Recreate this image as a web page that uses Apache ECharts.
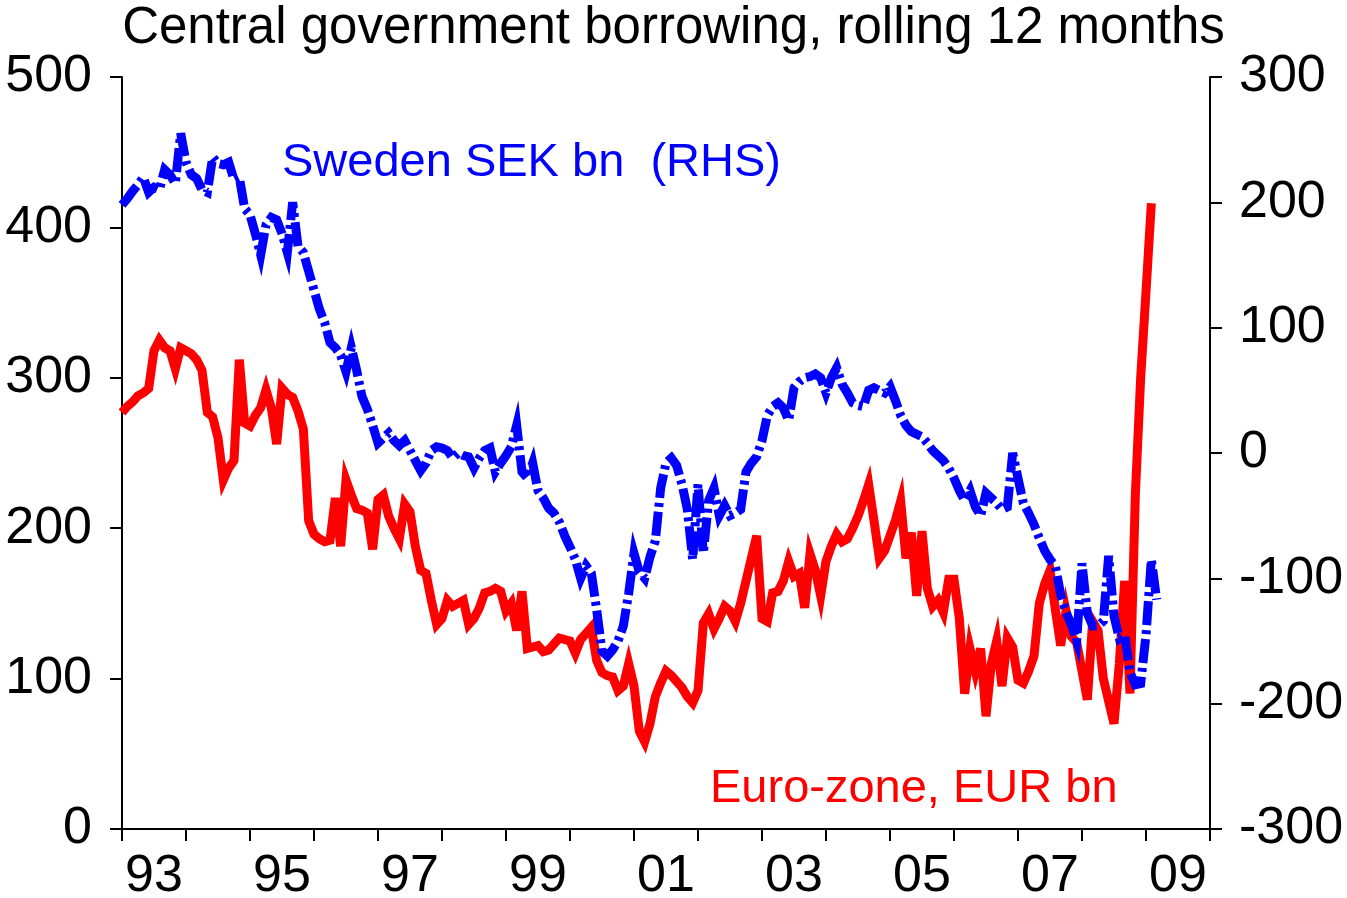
<!DOCTYPE html>
<html>
<head>
<meta charset="utf-8">
<title>Central government borrowing</title>
<script src="https://cdn.jsdelivr.net/npm/echarts@6/dist/echarts.min.js"></script>
<style>
  html, body { margin: 0; padding: 0; background: #ffffff; }
  #chart { width: 1347px; height: 898px; }
</style>
</head>
<body>
<div id="chart"></div>
<script>
// year labels, one per calendar year on the x axis (Jan 1993 .. Jan 2010)
var yearLabels = ['93', '94', '95', '96', '97', '98', '99', '00', '01',
                  '02', '03', '04', '05', '06', '07', '08', '09', '10'];

// Euro-zone, EUR bn, monthly from Jan 1993 (left axis)
var euroZone = [
    277, 281, 284, 288, 290, 293, 318, 325, 320, 318, 306, 320,   // 93
    318, 316, 312, 305, 277, 274, 260, 232, 240, 245, 312, 270,   // 94
    268, 275, 280, 292, 280, 256, 293, 289, 287, 278, 266, 205,   // 95
    196, 193, 191, 192, 220, 188, 232, 222, 213, 212, 210, 186,   // 96
    219, 222, 208, 200, 193, 216, 211, 188, 172, 170, 152, 136,   // 97
    140, 152, 148, 150, 152, 136, 140, 147, 157, 158, 160, 158,   // 98
    145, 150, 132, 158, 120, 121, 122, 118, 119, 123, 127, 126,   // 99
    125, 117, 126, 130, 134, 112, 104, 102, 101, 92, 95, 110,     // 00
    95, 65, 58, 70, 88, 97, 105, 102, 98, 94, 88, 84,             // 01
    92, 137, 143, 133, 140, 148, 145, 138, 150, 165, 180, 195,    // 02
    140, 138, 157, 158, 165, 178, 168, 170, 147, 183, 172, 155,   // 03
    178, 188, 196, 191, 193, 200, 208, 218, 229, 205, 180, 185,   // 04
    195, 205, 218, 180, 197, 155, 198, 160, 148, 152, 144, 166,   // 05
    166, 140, 90, 120, 105, 120, 75, 110, 125, 95, 127, 121,      // 06
    99, 97, 105, 115, 150, 163, 172, 146, 122, 145, 128, 124,     // 07
    105, 86, 138, 132, 100, 85, 70, 110, 165, 90, 222, 300,       // 08
    357, 416                                                      // 09
];

// Sweden SEK bn, monthly from Jan 1993 (right axis)
var sweden = [
    198, 203, 209, 214, 220, 208, 212, 210, 226, 222, 215, 255,   // 93
    232, 222, 219, 210, 208, 236, 231, 230, 232, 218, 220, 195,   // 94
    190, 175, 158, 182, 188, 186, 175, 160, 200, 165, 160, 145,   // 95
    130, 115, 104, 88, 84, 78, 65, 84, 66, 45, 35, 22,            // 96
    8, 12, 16, 10, 6, 10, 2, -6, -14, -8, 2, 5,                   // 97
    4, 2, -4, 0, -2, -3, -12, -4, 2, 4, -15, -8,                  // 98
    -2, 5, 22, -15, -20, -8, -30, -36, -44, -48, -55, -66,        // 99
    -75, -85, -100, -90, -96, -125, -158, -162, -157, -150, -138, -112, // 00
    -80, -95, -100, -83, -70, -28, -8, -4, -10, -25, -45, -85,    // 01
    -25, -80, -38, -28, -50, -42, -50, -48, -45, -15, -8, -3,     // 02
    10, 30, 37, 40, 36, 26, 52, 57, 60, 61, 63, 60,               // 03
    48, 60, 68, 55, 48, 40, 38, 37, 50, 52, 50, 48,               // 04
    53, 42, 30, 22, 17, 15, 13, 8, 2, -2, -6, -12,                // 05
    -20, -30, -38, -30, -43, -50, -32, -36, -40, -45, -43, 0,     // 06
    -20, -40, -48, -57, -68, -78, -85, -90, -113, -127, -137, -150, // 07
    -88, -128, -138, -138, -134, -82, -130, -148, -145, -175, -185, -184, // 08
    -145, -85, -117                                               // 09
];

// monthly categories, one per month, last one is Jan 2010
var months = [];
for (var y = 0; y < yearLabels.length - 1; y++) {
    for (var m = 0; m < 12; m++) {
        months.push(yearLabels[y] + '-' + m);
    }
}
months.push(yearLabels[yearLabels.length - 1] + '-0');

var FONT = '"Liberation Sans", Arial, sans-serif';

var chart = echarts.init(document.getElementById('chart'));
var option = {
    backgroundColor: '#ffffff',
    animation: false,
    title: {
        text: 'Central government borrowing, rolling 12 months',
        left: 'center',
        top: -2,
        textStyle: { fontFamily: FONT, fontSize: 51, fontWeight: 'normal', color: '#000' }
    },
    grid: { left: 122, right: 137, top: 77, bottom: 69, containLabel: false, outerBoundsMode: 'none' },
    xAxis: {
        type: 'category',
        data: months,
        boundaryGap: false,
        axisLine: { lineStyle: { color: '#000', width: 2 } },
        axisTick: {
            show: true,
            length: 12,
            interval: function (i) { return i % 12 === 0; },
            lineStyle: { color: '#000', width: 2 }
        },
        axisLabel: {
            interval: function (i) { return i % 24 === 6; },
            formatter: function (v) { return v.split('-')[0]; },
            fontFamily: FONT,
            fontSize: 52,
            color: '#000',
            margin: 22
        },
        splitLine: { show: false }
    },
    yAxis: [
        {
            type: 'value',
            min: 0, max: 500, interval: 100,
            axisLine: { show: true, lineStyle: { color: '#000', width: 2 } },
            axisTick: { show: true, length: 12, lineStyle: { color: '#000', width: 2 } },
            axisLabel: { fontFamily: FONT, fontSize: 52, color: '#000', margin: 30 },
            splitLine: { show: false }
        },
        {
            type: 'value',
            min: -300, max: 300, interval: 100,
            position: 'right',
            axisLine: { show: true, lineStyle: { color: '#000', width: 2 } },
            axisTick: { show: true, length: 12, lineStyle: { color: '#000', width: 2 } },
            axisLabel: { fontFamily: FONT, fontSize: 52, color: '#000', margin: 29 },
            splitLine: { show: false }
        }
    ],
    series: [
        {
            name: 'Euro-zone, EUR bn',
            type: 'line',
            yAxisIndex: 0,
            data: euroZone,
            showSymbol: false,
            lineStyle: { color: '#ff0000', width: 9, join: 'miter', miterLimit: 6 },
            z: 2
        },
        {
            name: 'Sweden SEK bn  (RHS)',
            type: 'line',
            yAxisIndex: 1,
            data: sweden,
            showSymbol: false,
            lineStyle: { color: '#0000ff', width: 9, type: [24, 5, 4, 5], join: 'miter', miterLimit: 6 },
            z: 3
        }
    ],
    graphic: [
        {
            type: 'text',
            x: 282, y: 163,
            style: { text: 'Sweden SEK bn  (RHS)', font: '47px ' + FONT, fill: '#0000ff', verticalAlign: 'middle' }
        },
        {
            type: 'text',
            x: 710, y: 789,
            style: { text: 'Euro-zone, EUR bn', font: '47px ' + FONT, fill: '#ff0000', verticalAlign: 'middle' }
        }
    ]
};
chart.setOption(option);
</script>
</body>
</html>
